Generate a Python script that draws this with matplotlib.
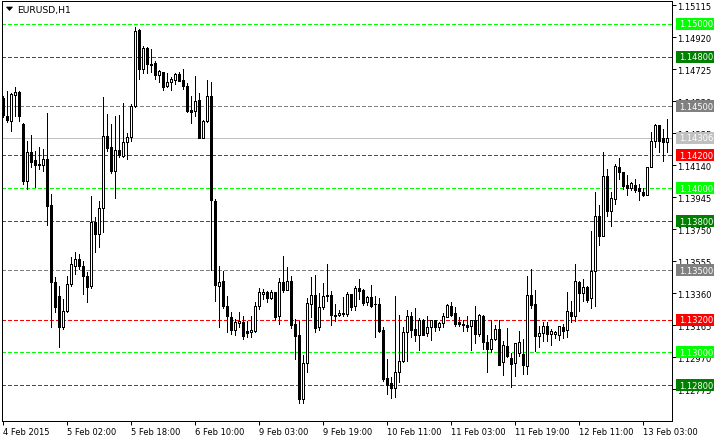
import matplotlib
matplotlib.use("Agg")
import matplotlib.pyplot as plt
from matplotlib.patches import Rectangle, Polygon
import matplotlib.transforms as mtransforms

# ---------------- data ----------------
opens = [1.14549, 1.14439, 1.14409, 1.14567, 1.14586, 1.14391, 1.14044, 1.14220, 1.14172, 1.14147,
         1.14141, 1.14178, 1.13897, 1.13429, 1.13343, 1.13154, 1.13252, 1.13416, 1.13526, 1.13569,
         1.13526, 1.13465, 1.13404, 1.13794, 1.13721, 1.13879, 1.14318, 1.14251, 1.14105, 1.14232,
         1.14196, 1.14281, 1.14312, 1.14500, 1.14963, 1.14726, 1.14854, 1.14756, 1.14762, 1.14689,
         1.14707, 1.14622, 1.14647, 1.14659, 1.14695, 1.14659, 1.14622, 1.14476, 1.14470, 1.14537,
         1.14305, 1.14409, 1.14561, 1.13922, 1.13404, 1.13435, 1.13282, 1.13215, 1.13136, 1.13179,
         1.13185, 1.13130, 1.13124, 1.13130, 1.13282, 1.13355, 1.13368, 1.13331, 1.13368, 1.13221,
         1.13429, 1.13380, 1.13435, 1.13173, 1.13106, 1.12716, 1.12935, 1.13295, 1.13349, 1.13154,
         1.13276, 1.13343, 1.13349, 1.13221, 1.13228, 1.13234, 1.13234, 1.13355, 1.13282, 1.13392,
         1.13380, 1.13307, 1.13337, 1.13295, 1.13293, 1.13136, 1.12844, 1.12813, 1.12783, 1.12880,
         1.12947, 1.13124, 1.13221, 1.13142, 1.13106, 1.13197, 1.13118, 1.13154, 1.13197, 1.13154,
         1.13179, 1.13215, 1.13282, 1.13240, 1.13185, 1.13173, 1.13167, 1.13161, 1.13197, 1.13112,
         1.13221, 1.13063, 1.13020, 1.13081, 1.13142, 1.12941, 1.13039, 1.12966, 1.12935, 1.12996,
         1.12990, 1.12917, 1.13349, 1.13295, 1.13100, 1.13118, 1.13161, 1.13112, 1.13112, 1.13106,
         1.13154, 1.13136, 1.13246, 1.13221, 1.13429, 1.13362, 1.13398, 1.13331, 1.13496, 1.13830,
         1.13709, 1.14074, 1.13861, 1.13934, 1.14129, 1.14098, 1.14019, 1.14001, 1.14019, 1.14001,
         1.13977, 1.13958, 1.14129, 1.14287, 1.14385, 1.14305, 1.14281]
highs = [1.14561, 1.14592, 1.14580, 1.14616, 1.14592, 1.14397, 1.14287, 1.14324, 1.14226, 1.14251,
         1.14238, 1.14458, 1.13964, 1.13459, 1.13404, 1.13325, 1.13465, 1.13581, 1.13611, 1.13599,
         1.13556, 1.13489, 1.13952, 1.13824, 1.13922, 1.14555, 1.14452, 1.14391, 1.14439, 1.14446,
         1.14519, 1.14336, 1.14513, 1.14981, 1.14969, 1.14866, 1.14860, 1.14847, 1.14774, 1.14720,
         1.14710, 1.14701, 1.14677, 1.14701, 1.14707, 1.14726, 1.14640, 1.14561, 1.14683, 1.14580,
         1.14415, 1.14659, 1.14647, 1.13934, 1.13526, 1.13496, 1.13343, 1.13246, 1.13203, 1.13246,
         1.13221, 1.13191, 1.13221, 1.13307, 1.13392, 1.13386, 1.13374, 1.13380, 1.13370, 1.13453,
         1.13587, 1.13520, 1.13465, 1.13203, 1.13191, 1.12984, 1.13331, 1.13459, 1.13471, 1.13362,
         1.13422, 1.13538, 1.13374, 1.13295, 1.13258, 1.13337, 1.13368, 1.13357, 1.13404, 1.13447,
         1.13386, 1.13343, 1.13410, 1.13343, 1.13331, 1.13154, 1.12960, 1.12850, 1.13343, 1.13228,
         1.13154, 1.13258, 1.13246, 1.13270, 1.13209, 1.13203, 1.13221, 1.13199, 1.13199, 1.13185,
         1.13240, 1.13295, 1.13307, 1.13276, 1.13215, 1.13197, 1.13221, 1.13199, 1.13282, 1.13234,
         1.13228, 1.13106, 1.13197, 1.13167, 1.13197, 1.13069, 1.13148, 1.12996, 1.13059, 1.13130,
         1.13081, 1.13465, 1.13508, 1.13380, 1.13161, 1.13185, 1.13185, 1.13142, 1.13130, 1.13163,
         1.13173, 1.13368, 1.13313, 1.13538, 1.13437, 1.13447, 1.13404, 1.13739, 1.13977, 1.13897,
         1.14220, 1.14117, 1.13977, 1.14147, 1.14184, 1.14100, 1.14080, 1.14038, 1.14056, 1.14025,
         1.14001, 1.14131, 1.14342, 1.14391, 1.14387, 1.14360, 1.14421]
lows = [1.14433, 1.14403, 1.14348, 1.14439, 1.14409, 1.14025, 1.13995, 1.14129, 1.14007, 1.14117,
        1.14105, 1.13776, 1.13154, 1.13246, 1.13033, 1.13142, 1.13246, 1.13404, 1.13477, 1.13508,
        1.13355, 1.13307, 1.13392, 1.13611, 1.13642, 1.13733, 1.14226, 1.14092, 1.13940, 1.14190,
        1.14190, 1.14178, 1.14287, 1.14494, 1.14665, 1.14701, 1.14701, 1.14707, 1.14665, 1.14647,
        1.14598, 1.14616, 1.14598, 1.14634, 1.14650, 1.14604, 1.14464, 1.14397, 1.14439, 1.14303,
        1.14303, 1.14403, 1.13502, 1.13313, 1.13154, 1.13270, 1.13124, 1.13112, 1.13106, 1.13154,
        1.13081, 1.13094, 1.13094, 1.13124, 1.13264, 1.13325, 1.13307, 1.13325, 1.13197, 1.13173,
        1.13368, 1.13378, 1.13148, 1.12960, 1.12692, 1.12692, 1.12880, 1.13215, 1.13124, 1.13136,
        1.13264, 1.13313, 1.13167, 1.13191, 1.13221, 1.13221, 1.13221, 1.13258, 1.13258, 1.13325,
        1.13288, 1.13288, 1.13276, 1.13094, 1.13124, 1.12826, 1.12746, 1.12722, 1.12728, 1.12820,
        1.12941, 1.12947, 1.13094, 1.13069, 1.13014, 1.13104, 1.13100, 1.13075, 1.13130, 1.13136,
        1.13154, 1.13213, 1.13221, 1.13161, 1.13161, 1.13130, 1.13130, 1.13014, 1.13057, 1.13100,
        1.13020, 1.12880, 1.13002, 1.13075, 1.12921, 1.12862, 1.12972, 1.12789, 1.12856, 1.12978,
        1.12868, 1.12868, 1.13270, 1.13008, 1.13033, 1.13069, 1.13069, 1.13045, 1.13087, 1.13075,
        1.13087, 1.13094, 1.13185, 1.13191, 1.13252, 1.13313, 1.13307, 1.13270, 1.13282, 1.13654,
        1.13707, 1.13830, 1.13770, 1.13904, 1.14056, 1.13995, 1.13958, 1.13989, 1.13977, 1.13928,
        1.13952, 1.13956, 1.14127, 1.14251, 1.14220, 1.14165, 1.14220]
closes = [1.14446, 1.14415, 1.14573, 1.14586, 1.14439, 1.14044, 1.14220, 1.14159, 1.14141, 1.14141,
          1.14178, 1.13891, 1.13429, 1.13276, 1.13154, 1.13252, 1.13416, 1.13538, 1.13569, 1.13526,
          1.13465, 1.13398, 1.13794, 1.13721, 1.13879, 1.14318, 1.14245, 1.14105, 1.14232, 1.14202,
          1.14281, 1.14312, 1.14500, 1.14957, 1.14726, 1.14854, 1.14756, 1.14752, 1.14689, 1.14714,
          1.14616, 1.14647, 1.14665, 1.14695, 1.14653, 1.14622, 1.14470, 1.14464, 1.14531, 1.14305,
          1.14409, 1.14561, 1.13928, 1.13410, 1.13429, 1.13282, 1.13221, 1.13136, 1.13185, 1.13191,
          1.13100, 1.13118, 1.13136, 1.13282, 1.13368, 1.13368, 1.13331, 1.13368, 1.13215, 1.13429,
          1.13380, 1.13435, 1.13167, 1.13100, 1.12716, 1.12935, 1.13301, 1.13349, 1.13148, 1.13276,
          1.13343, 1.13349, 1.13228, 1.13230, 1.13240, 1.13238, 1.13355, 1.13276, 1.13392, 1.13374,
          1.13301, 1.13337, 1.13282, 1.13293, 1.13130, 1.12838, 1.12801, 1.12783, 1.12880, 1.12947,
          1.13124, 1.13221, 1.13136, 1.13106, 1.13197, 1.13106, 1.13154, 1.13197, 1.13154, 1.13179,
          1.13221, 1.13288, 1.13228, 1.13173, 1.13173, 1.13167, 1.13154, 1.13197, 1.13112, 1.13228,
          1.13063, 1.13020, 1.13081, 1.13142, 1.12923, 1.13045, 1.12978, 1.12929, 1.13057, 1.13063,
          1.12923, 1.13349, 1.13288, 1.13100, 1.13118, 1.13161, 1.13112, 1.13130, 1.13124, 1.13161,
          1.13130, 1.13252, 1.13221, 1.13435, 1.13362, 1.13398, 1.13319, 1.13496, 1.13830, 1.13709,
          1.14074, 1.13861, 1.13940, 1.14135, 1.14098, 1.14013, 1.14001, 1.14031, 1.13989, 1.13983,
          1.13958, 1.14129, 1.14287, 1.14385, 1.14287, 1.14281, 1.14306]

time_labels = ["4 Feb 2015", "5 Feb 02:00", "5 Feb 18:00", "6 Feb 10:00", "9 Feb 03:00",
               "9 Feb 19:00", "10 Feb 11:00", "11 Feb 03:00", "11 Feb 19:00", "12 Feb 11:00",
               "13 Feb 03:00"]
time_label_bars = [0, 16, 32, 48, 64, 80, 96, 112, 128, 144, 160]

price_ticks = [1.15115, 1.14920, 1.14725, 1.14530, 1.14335, 1.14140, 1.13945,
               1.13750, 1.13555, 1.13360, 1.13165, 1.12970, 1.12775]

levels = [1.15000, 1.14800, 1.14500, 1.14200, 1.14000, 1.13800, 1.13500, 1.13200, 1.13000, 1.12800]
level_colors = ["#00FF00", "#008000", "#808080", "#FF0000", "#00FF00",
                "#008000", "#808080", "#FF0000", "#00FF00", "#008000"]
current_price = 1.14306
current_color = "#C0C0C0"
symbol_title = "EURUSD,H1"

# ---------------- figure ----------------
plt.rcParams['font.family'] = ['DejaVu Sans']
plt.rcParams['lines.scale_dashes'] = False
W, H = 715, 439
fig = plt.figure(figsize=(W / 100, H / 100), dpi=100)
fig.patch.set_facecolor('white')
L, R, T, B = 2, 672, 2, 422
ax = fig.add_axes([L / W, (H - B) / H, (R - L) / W, (B - T) / H])
ax.set_facecolor('white')

n = len(opens)
ax.set_xlim(-0.2, 167.3)
ax.set_ylim(1.12582, 1.15140)

px = 0.72  # one pixel in points

# level lines
for lv, col in zip(levels, level_colors):
    ax.axhline(lv, color=col, lw=px, dashes=(2.4, 1.6), zorder=1, antialiased=False)
ax.axhline(current_price, color=current_color, lw=px, zorder=1, antialiased=False)

# candles
xs = list(range(n))
ax.vlines(xs, lows, highs, color='black', lw=px, zorder=2, antialiased=False)
bottoms = [min(o, c) for o, c in zip(opens, closes)]
heights = [abs(c - o) for o, c in zip(opens, closes)]
fills = ['white' if c >= o else 'black' for o, c in zip(opens, closes)]
bars = ax.bar(xs, heights, bottom=bottoms, width=0.5, color=fills, edgecolor='black',
              linewidth=px, zorder=3)
for b in bars:
    b.set_antialiased(False)

# spines
for s in ax.spines.values():
    s.set_color('black')
    s.set_linewidth(px)

# axes ticks
ax.yaxis.tick_right()
ax.set_yticks(price_ticks)
ax.set_yticklabels([f"{p:.5f}" for p in price_ticks])
ax.tick_params(axis='y', direction='out', length=3.2, width=px, pad=0.8,
               labelsize=6, colors='black')
ax.set_xticks(time_label_bars)
ax.set_xticklabels(time_labels)
for lab in ax.get_xticklabels():
    lab.set_ha('left')
ax.tick_params(axis='x', direction='out', length=3.0, width=px, pad=1.5,
               labelsize=6, colors='black')

# right-side price boxes
trans = mtransforms.blended_transform_factory(fig.transFigure, ax.transData)
box_h = 12 * (1.15140 - 1.12582) / (B - T)
for lv, col in list(zip(levels, level_colors)) + [(current_price, current_color)]:
    rect = Rectangle((676 / W, lv - box_h / 2), (714 - 676) / W, box_h,
                     transform=trans, facecolor=col, edgecolor='none',
                     clip_on=False, zorder=10)
    ax.add_artist(rect)
    ax.text(679 / W, lv, f"{lv:.5f}", transform=trans, color='white',
            fontsize=6, va='center', ha='left', clip_on=False, zorder=11)

# title with triangle
tri = Polygon([[6.5 / W, 1 - 8 / H], [12.5 / W, 1 - 8 / H], [9.5 / W, 1 - 11.5 / H]],
              closed=True, transform=fig.transFigure, facecolor='black',
              edgecolor='black', lw=0.5)
fig.patches.append(tri)
fig.text(17 / W, 1 - 10 / H, symbol_title, fontsize=6.7, va='center', ha='left',
         color='black')

fig.savefig("out.png", dpi=100, facecolor='white')
